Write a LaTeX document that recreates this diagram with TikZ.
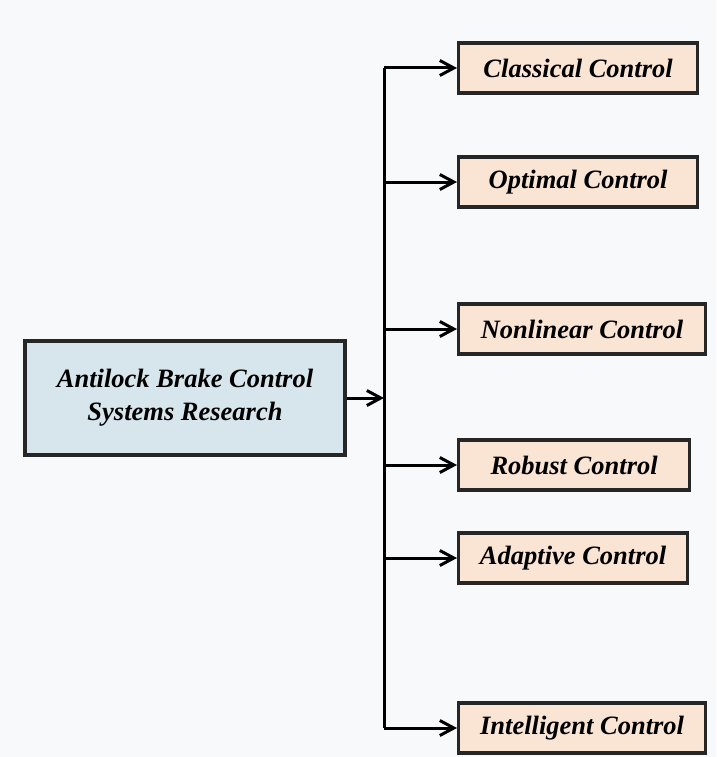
\documentclass[tikz,border=0pt]{standalone}
\usepackage{fontspec}
\setmainfont{Liberation Serif}
\usetikzlibrary{arrows.meta}
\definecolor{srcblue}{RGB}{214,230,236}
\definecolor{leafpeach}{RGB}{250,228,212}
\definecolor{pagebg}{RGB}{248,249,250}
\tikzset{
	srcbox/.style={draw=black!85, line width=3.2pt, fill=srcblue, minimum width=320pt, minimum height=114pt, align=center, font=\fontsize{26.5}{33}\selectfont\bfseries\itshape},
	leafbox/.style={draw=black!85, line width=3.2pt, fill=leafpeach, anchor=west, minimum height=50pt, font=\fontsize{26.5}{30}\selectfont\bfseries\itshape},
	link/.style={line width=3pt, -{Straight Barb[length=14pt,width=15pt,line width=3pt]}}
}
\begin{document}
\begin{tikzpicture}[x=1pt, y=-1pt, line join=miter]
			\fill[pagebg] (0,0) rectangle (716,757);
			\useasboundingbox (0,0) rectangle (716,757);
			\node[srcbox] (src) at (185,398) {Antilock Brake Control\\Systems Research};
			\coordinate (bus) at (384,398);
			\node[leafbox, minimum width=239pt] (cls) at (457,68) {Classical Control};
			\node[leafbox, minimum width=239pt] (opt) at (457,182) {Optimal Control};
			\node[leafbox, minimum width=247pt] (nonlin) at (457,329) {Nonlinear Control};
			\node[leafbox, minimum width=231pt] (rob) at (457,465) {Robust Control};
			\node[leafbox, minimum width=229pt] (adapt) at (457,558) {Adaptive Control};
			\node[leafbox, minimum width=247pt] (intel) at (457,728) {Intelligent Control};
			\draw[line width=3pt] (cls.west -| bus) -- (intel.west -| bus);
			\draw[link] (src.east) -- (bus);
			\foreach \i in {cls,opt,nonlin,rob,adapt,intel}{\draw[link] (\i.west -| bus) -- (\i.west);}
	\end{tikzpicture}
\end{document}
